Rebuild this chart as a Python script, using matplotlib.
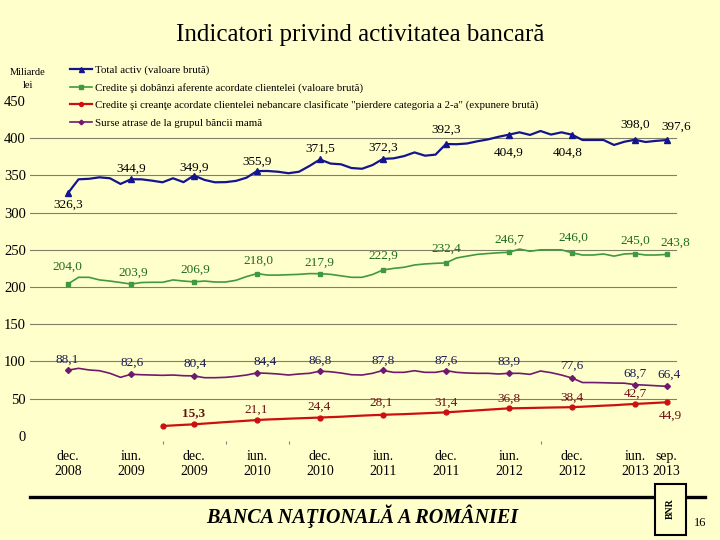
import matplotlib
matplotlib.use("Agg")
import matplotlib.pyplot as plt
from matplotlib.lines import Line2D
from matplotlib.patches import Rectangle
import numpy as np

# monthly data, dec. 2008 .. sep. 2013 (58 months)
total_activ = [326.3, 344.8, 345.5, 347.5, 346.2, 338.6, 344.9, 344.8, 343.0, 340.8,
               346.2, 341.0, 349.9, 344.0, 340.8, 341.0, 342.7, 347.0, 355.9, 356.0,
               355.0, 353.0, 355.0, 362.8, 371.5, 366.0, 365.0, 360.0, 359.0, 364.0,
               372.3, 373.0, 376.0, 381.0, 376.6, 378.0, 392.3, 392.0, 393.0, 396.0,
               398.5, 402.0, 404.9, 408.0, 404.5, 409.8, 405.0, 408.0, 404.8, 397.7,
               397.7, 397.7, 391.0, 395.4, 398.0, 395.0, 396.5, 397.6]
credite = [204.0, 213.0, 213.0, 209.5, 208.0, 206.0, 203.9, 206.0, 206.3, 206.3,
           209.5, 208.0, 206.9, 208.0, 206.7, 206.7, 209.0, 214.0, 218.0, 216.0,
           216.0, 216.5, 217.0, 218.0, 217.9, 217.0, 215.0, 213.0, 213.0, 216.8,
           222.9, 225.0, 226.5, 229.6, 231.0, 231.8, 232.4, 239.0, 241.5, 243.9,
           245.0, 246.0, 246.7, 251.0, 248.0, 250.0, 250.0, 250.0, 246.0, 243.0,
           243.0, 244.4, 241.5, 244.4, 245.0, 243.0, 243.0, 243.8]
pierdere = [np.nan] * 9 + [13.0, 13.8, 14.6, 15.3, 16.3, 17.3, 18.3, 19.2, 20.1, 21.1,
                           21.8, 22.3, 22.9, 23.4, 23.9, 24.4, 25.0, 25.5, 26.3, 27.0,
                           27.6, 28.1, 28.6, 29.0, 29.6, 30.2, 30.8, 31.4, 32.3, 33.2,
                           34.1, 35.0, 35.9, 36.8, 37.0, 37.3, 37.6, 37.9, 38.1, 38.4,
                           39.0, 39.7, 40.4, 41.0, 41.9, 42.7, 43.4, 44.2, 44.9]
surse = [88.1, 90.6, 88.4, 87.4, 83.9, 78.5, 82.6, 82.0, 81.6, 81.2,
         81.6, 80.7, 80.4, 78.0, 78.0, 78.5, 79.8, 81.6, 84.4, 83.9,
         83.0, 81.6, 83.0, 83.9, 86.8, 86.0, 84.3, 82.0, 81.6, 83.9,
         87.8, 85.2, 85.2, 87.4, 85.2, 85.2, 87.6, 85.2, 84.3, 83.9,
         83.9, 83.0, 83.9, 83.9, 82.5, 87.0, 84.8, 81.6, 77.6, 71.5,
         71.5, 71.2, 70.8, 70.6, 68.7, 68.0, 67.2, 66.4]

tick_months = [0, 6, 12, 18, 24, 30, 36, 42, 48, 54, 57]
tick_labels = ["dec.\n2008", "iun.\n2009", "dec.\n2009", "iun.\n2010", "dec.\n2010",
               "iun.\n2011", "dec.\n2011", "iun.\n2012", "dec.\n2012", "iun.\n2013",
               "sep.\n2013"]
red_marks = [9, 12, 18, 24, 30, 36, 42, 48, 54, 57]
red_labeled = [12, 18, 24, 30, 36, 42, 48, 54, 57]
minor_months = [6, 9, 12, 15, 21, 36, 42, 45, 48]

legend_labels = [
    "Total activ (valoare brută)",
    "Credite şi dobânzi aferente acordate clientelei (valoare brută)",
    "Credite şi creanţe acordate clientelei nebancare clasificate \"pierdere categoria a 2-a\" (expunere brută)",
    "Surse atrase de la grupul băncii mamă",
]

# label offsets in pixels (dx, dy up)
blue_off = [(0, -12), (0, 11), (0, 8), (0, 9), (0, 11), (0, 11), (0, 14), (0, -18), (-4, -18), (0, 15), (10, 13)]
green_off = [(-1, 17), (2, 11), (1, 12), (1, 13), (-1, 11), (0, 14), (0, 14), (0, 13), (1, 15), (0, 13), (9, 12)]
purple_off = [(-1, 10), (1, 12), (1, 12), (8, 11), (0, 10), (0, 10), (0, 10), (0, 12), (0, 12), (0, 11), (2, 12)]
red_off = [(0, 11), (-1, 10), (-1, 11), (-2, 12), (0, 10), (0, 10), (0, 9), (0, 10), (4, -13)]

plt.rcParams['font.family'] = ['Liberation Serif', 'DejaVu Serif']
BG = '#FFFFCC'

fig = plt.figure(figsize=(7.2, 5.4), dpi=100, facecolor=BG)
ax = fig.add_axes([30 / 720, 1 - 435.7 / 540, 647 / 720, 334.6 / 540])
ax.set_facecolor('none')
months = np.arange(len(total_activ))

series = [
    (total_activ, '#14148f', '^', 4.5, 1.6, tick_months, blue_off, '#000000'),
    (credite, '#3f9a3f', 's', 3.5, 1.2, tick_months, green_off, '#1f6a1f'),
    (pierdere, '#cc1010', 'o', 3.5, 1.6, red_marks, red_off, '#6a1010'),
    (surse, '#6e1a6e', 'D', 3.0, 1.2, tick_months, purple_off, '#1c1c50'),
]

handles = []
for vals, col, mk, ms, lw, marks, offs, tcol in series:
    ax.plot(months, vals, color=col, lw=lw, marker=mk, ms=ms, markevery=marks, zorder=3)
    handles.append(Line2D([], [], color=col, lw=lw, marker=mk, ms=ms * 0.8))
    lab_months = red_labeled if vals is pierdere else marks
    for m, (dx, dy) in zip(lab_months, offs):
        txt = f"{vals[m]:.1f}".replace('.', ',')
        weight = 'bold' if (vals is pierdere and m == 12) else 'normal'
        ax.annotate(txt, (m, vals[m]), xytext=(dx * 0.72, dy * 0.72), textcoords='offset points',
                    ha='center', va='center', fontsize=9.5, color=tcol, fontweight=weight)

for y in range(50, 401, 50):
    ax.axhline(y, color='#80806a', lw=0.8, zorder=1)

ax.set_xlim((30 - 68) / 10.5, (677 - 68) / 10.5)
ax.set_ylim(0, 450)
ax.set_yticks(range(0, 451, 50))
ax.tick_params(axis='y', length=0, pad=3, labelsize=10.5)
ax.set_xticks(tick_months)
ax.set_xticklabels(tick_labels, fontsize=9, linespacing=2.0)
ax.set_xticks(minor_months, minor=True)
ax.tick_params(axis='x', which='major', length=0, pad=6)
ax.tick_params(axis='x', which='minor', length=2.5, color='#808080', width=0.8)
ax.spines['bottom'].set_position(('outward', 4))
for s in ax.spines.values():
    s.set_visible(False)

fig.legend(handles, legend_labels, loc='upper left', bbox_to_anchor=(70 / 720, 1 - 65 / 540),
           frameon=False, fontsize=7.8, handlelength=2.0, handletextpad=0.3, labelspacing=0.72,
           borderpad=0, borderaxespad=0)

fig.text(28 / 720, 1 - 79 / 540, "Miliarde\nlei", ha='center', va='center', fontsize=7.5,
         linespacing=1.5)
fig.text(360 / 720, 1 - 35 / 540, "Indicatori privind activitatea bancară", ha='center',
         va='center', fontsize=18)

# footer
fig.add_artist(Line2D([30 / 720, 705 / 720], [1 - 497 / 540, 1 - 497 / 540], color='black', lw=2.4))
fig.text(362 / 720, 1 - 516 / 540, "BANCA NAŢIONALĂ A ROMÂNIEI", ha='center', va='center',
         fontsize=14.5, fontweight='bold', fontstyle='italic')
fig.add_artist(Rectangle((655 / 720, 1 - 535 / 540), 31 / 720, 51 / 540, transform=fig.transFigure,
                         facecolor=BG, edgecolor='black', lw=1.5, zorder=5))
fig.text(670.5 / 720, 1 - 509 / 540, "BNR", ha='center', va='center', fontsize=7,
         fontweight='bold', rotation=90, zorder=6)
fig.text(700 / 720, 1 - 523 / 540, "16", ha='center', va='center', fontsize=9)

fig.savefig("out.png", dpi=100, facecolor=BG)
